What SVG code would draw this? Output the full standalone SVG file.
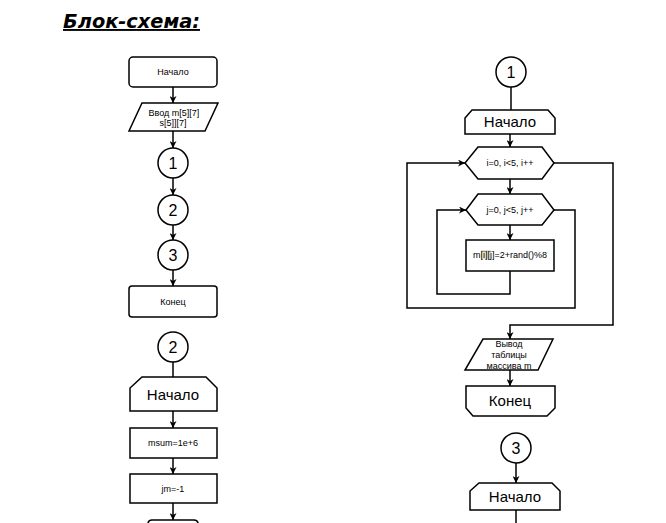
<svg xmlns="http://www.w3.org/2000/svg" width="666" height="523" viewBox="0 0 666 523">
<style>
.s{fill:#fff;stroke:#000;stroke-width:1.5}
.c{fill:none;stroke:#000;stroke-width:1.5}
.t{font-family:"Liberation Sans",Arial,sans-serif;font-size:9px;fill:#000;text-anchor:middle}
.b{font-family:"Liberation Sans",Arial,sans-serif;font-size:15px;fill:#000;text-anchor:middle}
.n{font-family:"Liberation Sans",Arial,sans-serif;font-size:16px;fill:#000;text-anchor:middle}
</style>
<defs>
<marker id="a" viewBox="0 0 10 10" refX="10" refY="5" markerWidth="7" markerHeight="7" orient="auto" markerUnits="userSpaceOnUse">
<path d="M0,0 L10,5 L0,10 L3,5 Z" fill="#000"/>
</marker>
</defs>
<rect width="666" height="523" fill="#fff"/>
<text x="63" y="28" font-family="DejaVu Sans,Verdana,sans-serif" font-size="19" font-weight="bold" font-style="italic" text-decoration="underline" textLength="137" lengthAdjust="spacingAndGlyphs">Блок-схема:</text>

<g id="connectors">
<path class="c" d="M173,87 V103" marker-end="url(#a)"/>
<path class="c" d="M173,131 V148" marker-end="url(#a)"/>
<path class="c" d="M173,178 V195" marker-end="url(#a)"/>
<path class="c" d="M173,225 V240" marker-end="url(#a)"/>
<path class="c" d="M173,270 V286" marker-end="url(#a)"/>
<path class="c" d="M173,362 V377"/>
<path class="c" d="M173,411 V428" marker-end="url(#a)"/>
<path class="c" d="M173,458 V474" marker-end="url(#a)"/>
<path class="c" d="M173,503 V520" marker-end="url(#a)"/>
<path class="c" d="M511,87 V110"/>
<path class="c" d="M510,134 V147" marker-end="url(#a)"/>
<path class="c" d="M510,179 V194" marker-end="url(#a)"/>
<path class="c" d="M510,225 V240" marker-end="url(#a)"/>
<path class="c" d="M510,271 V294 H437 V210 H466" marker-end="url(#a)"/>
<path class="c" d="M554,210 H575 V308 H407 V163 H465" marker-end="url(#a)"/>
<path class="c" d="M554,163 H613 V325 H510 V339" marker-end="url(#a)"/>
<path class="c" d="M510,370 V386" marker-end="url(#a)"/>
<path class="c" d="M516,463 V483" marker-end="url(#a)"/>
<path class="c" d="M516,510 V523"/>
</g>

<g id="l-start"><rect class="s" x="129" y="57" width="88" height="30" rx="4"/><text class="t" x="173" y="75">Начало</text></g>
<g id="l-input"><path class="s" d="M142,103 H218 L205,131 H129 Z"/><text class="t" x="174" y="116">Ввод m[5][7]</text><text class="t" x="173" y="126">s[5]][7]</text></g>
<g id="l-c1"><circle class="s" cx="173" cy="163" r="15"/><text class="n" x="173" y="169">1</text></g>
<g id="l-c2"><circle class="s" cx="173" cy="210" r="15"/><text class="n" x="173" y="216">2</text></g>
<g id="l-c3"><circle class="s" cx="173" cy="255" r="15"/><text class="n" x="173" y="261">3</text></g>
<g id="l-end"><rect class="s" x="129" y="286" width="88" height="31" rx="3"/><text class="t" x="173" y="305">Конец</text></g>

<g id="p2-c"><circle class="s" cx="173" cy="347" r="15"/><text class="n" x="173" y="353">2</text></g>
<g id="p2-start"><path class="s" d="M142,377 H206 L217,388 V411 H130 V388 Z"/><text class="b" x="173" y="400">Начало</text></g>
<g id="p2-msum"><rect class="s" x="130" y="428" width="87" height="30"/><text class="t" x="173" y="446">msum=1e+6</text></g>
<g id="p2-jm"><rect class="s" x="130" y="474" width="87" height="29"/><text class="t" x="173" y="492">jm=-1</text></g>
<g id="p2-next"><path class="s" d="M148,530 V524 Q148,520 152,520 H194 Q198,520 198,524 V530"/></g>

<g id="r-c1"><circle class="s" cx="511" cy="72" r="15"/><text class="n" x="511" y="78">1</text></g>
<g id="r-start"><path class="s" d="M472,110 H548 L555,118 V134 H465 V118 Z"/><text class="b" x="510" y="127">Начало</text></g>
<g id="r-loopi"><path class="s" d="M465,163 L478,147 H542 L554,163 L542,179 H478 Z"/><text class="t" x="510" y="166">i=0, i&lt;5, i++</text></g>
<g id="r-loopj"><path class="s" d="M466,210 L478,194 H542 L554,210 L542,225 H478 Z"/><text class="t" x="510" y="213">j=0, j&lt;5, j++</text></g>
<g id="r-assign"><rect class="s" x="466" y="240" width="88" height="31"/><rect x="481" y="250" width="10" height="9" fill="#e6e2c8"/><text class="t" x="510" y="258">m[i][j]=2+rand()%8</text></g>
<g id="r-output"><path class="s" d="M483,339 H553 L538,370 H465 Z"/><text class="t" x="509" y="347" font-size="8">Вывод</text><text class="t" x="509" y="358" font-size="8">таблицы</text><text class="t" x="509" y="369" font-size="8">массива m</text></g>
<g id="r-end"><path class="s" d="M466,386 H555 V408 L547,416 H473 L466,408 Z"/><text class="b" x="510" y="406">Конец</text></g>

<g id="p3-c"><circle class="s" cx="516" cy="448" r="15"/><text class="n" x="516" y="454">3</text></g>
<g id="p3-start"><path class="s" d="M479,483 H552 L560,491 V510 H470 V491 Z"/><text class="b" x="515" y="502">Начало</text></g>
</svg>
